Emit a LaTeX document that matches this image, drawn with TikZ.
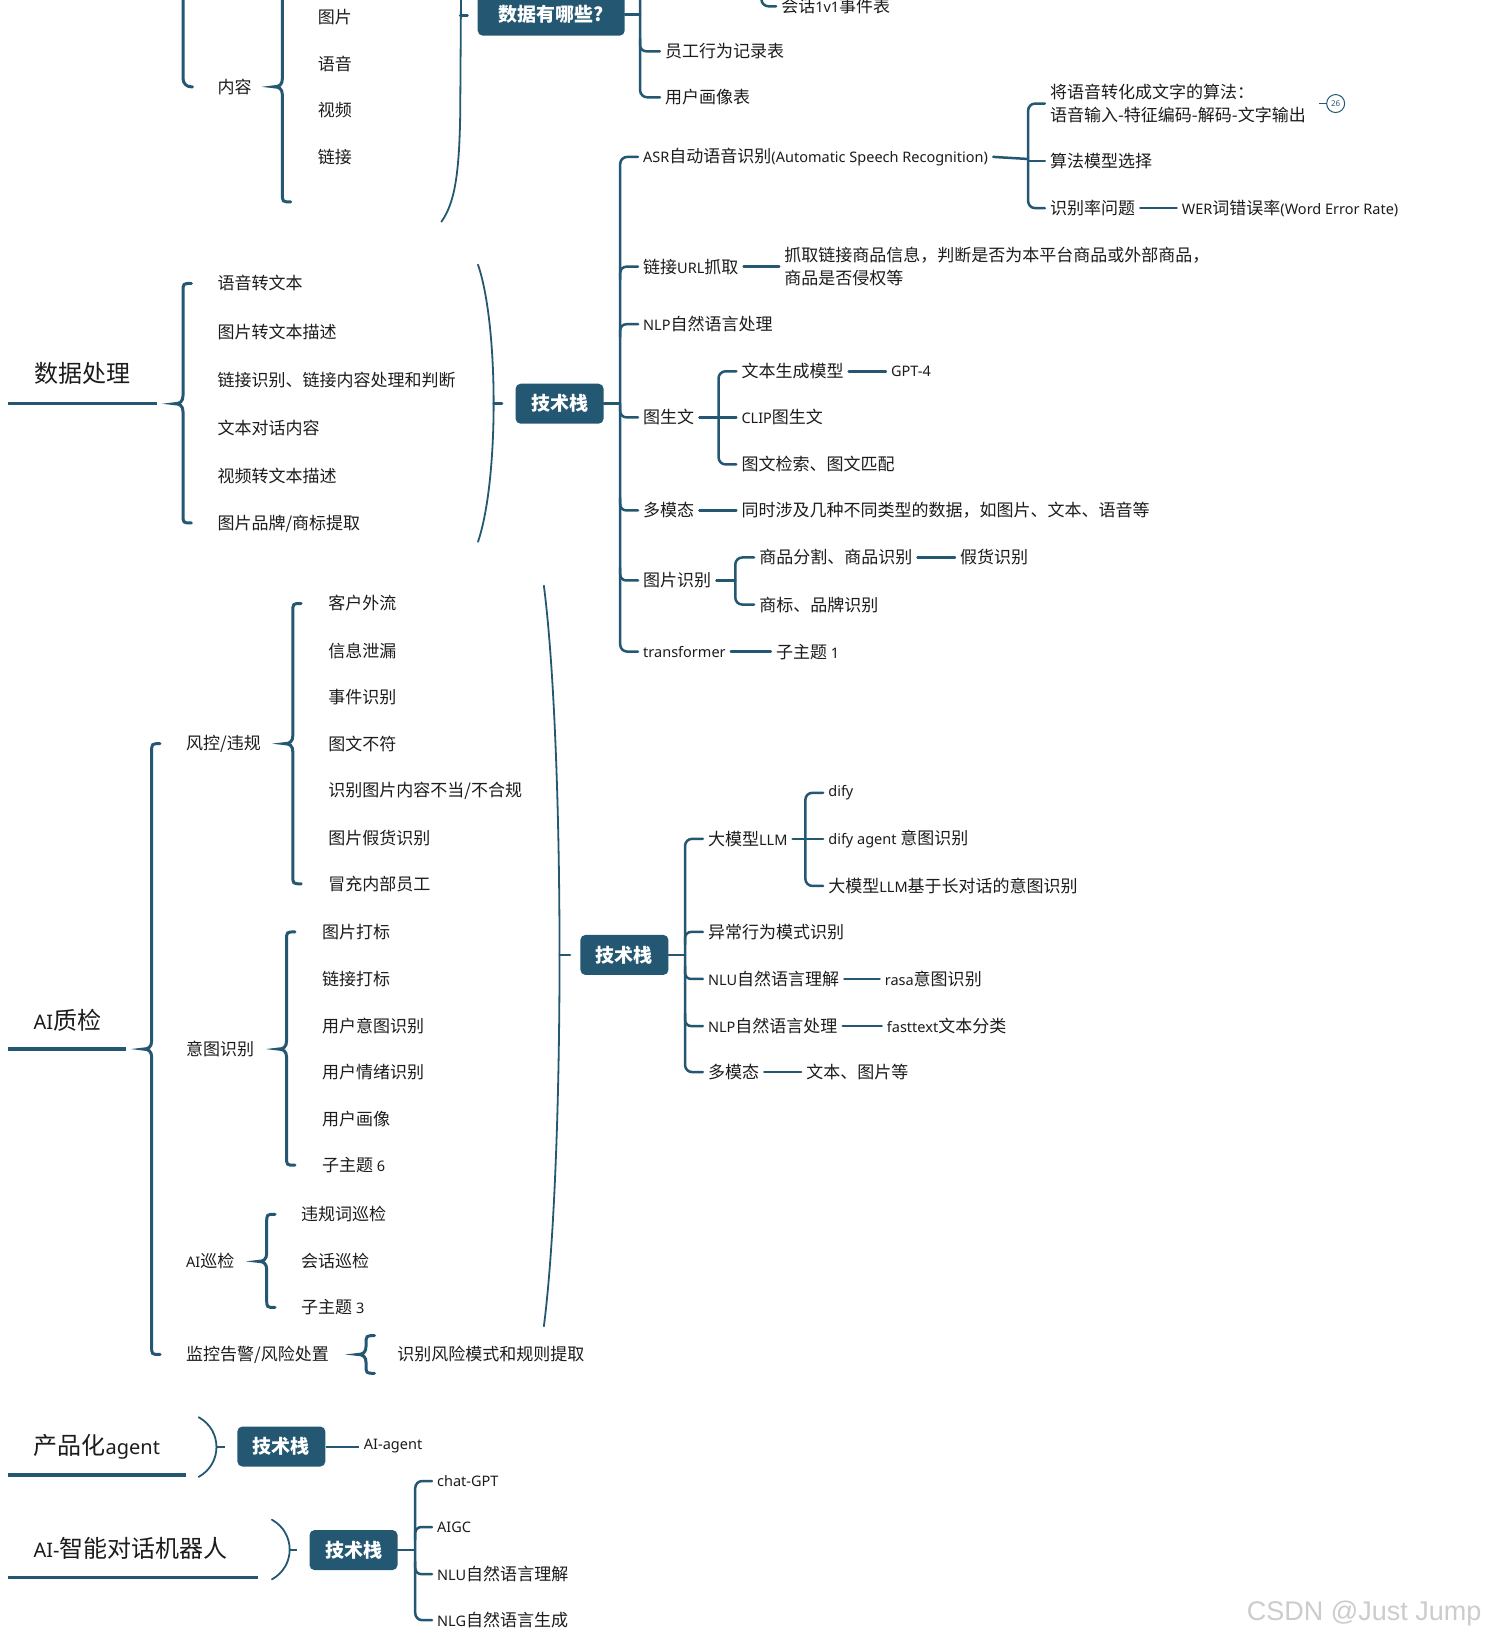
\documentclass[tikz,border=0pt]{standalone}
\usepackage{fontspec}
\setmainfont{Noto Sans CJK SC}
\newfontfamily\hwfont{Noto Sans}
\newfontfamily\wmfont{Liberation Sans}
\usetikzlibrary{calc}
\definecolor{lc}{HTML}{245872}
\definecolor{tc}{HTML}{1C1C1C}
\newcommand\hwt[1]{{\hwfont\fontsize{14.5}{16}\selectfont #1}}
\newcommand\hwbig[1]{{\hwfont\fontsize{20}{24}\selectfont #1}}
\newcommand\mybrace[4]{%
 \draw[brc] ({#1+8},#2) .. controls (#1,#2) .. (#1,{#2+8}) -- (#1,{#3-8})
   .. controls (#1,{#3-2}) and ({#1-3},#3) .. ({#1-8},#3)
   .. controls ({#1-3},#3) and (#1,{#3+2}) .. (#1,{#3+8})
   -- (#1,{#4-8}) .. controls (#1,#4) .. ({#1+8},#4);}
\newcommand\myparen[4]{%
 \draw[prn] (#1,#2) .. controls ({#1+1.33*#4},{#2+0.22*(#3-#2)}) and ({#1+1.33*#4},{#3-0.22*(#3-#2)}) .. (#1,#3);}
\tikzset{
 ln/.style={draw=lc, line width=2.5pt, line cap=round},
 brc/.style={draw=lc, line width=3pt, line cap=round},
 prn/.style={draw=lc, line width=1.8pt, line cap=round},
 tx/.style={anchor=west, inner xsep=5pt, inner ysep=2pt, text=tc, font=\fontsize{17}{23}\selectfont, align=left},
 ttl/.style={anchor=west, inner sep=0pt, text=tc, font=\fontsize{24}{28}\selectfont},
 tbox/.style={fill=lc, rounded corners=5pt, text=white, font=\fontsize{19}{22}\selectfont\bfseries, minimum width=88pt, minimum height=40pt, inner sep=0pt},
}
\newcommand\brup[2]{\draw[ln,rounded corners=6] ($(#2.west -| #1)+(0,12)$) -- (#2.west -| #1) -- (#2.west);}
\newcommand\brdn[2]{\draw[ln,rounded corners=6] ($(#2.west -| #1)+(0,-12)$) -- (#2.west -| #1) -- (#2.west);}
\newcommand\brspan[3]{\draw[ln,rounded corners=7] (#2.west) -- (#2.west -| #1) -- (#3.west -| #1) -- (#3.west);}
\begin{document}
\begin{tikzpicture}[x=1.0458pt,y=-1.0458pt]
\useasboundingbox (0,0) rectangle (1419,1568);
\clip (0,0) rectangle (1419,1568);
\fill[white] (0,0) rectangle (1419,1568);

% ---------- top (cut-off) part ----------
\draw[brc,rounded corners=8] (175,-40) -- (175,83) -- (184,83);
\node[tx] (neirong) at (203,83) {内容};
\draw[brc] (270,-40) -- (270,75) .. controls (270,81) and (267,83) .. (262,83)
  .. controls (267,83) and (270,85) .. (270,91) -- (270,185) .. controls (270,193) .. (278,193);
\node[tx] (tp) at (299,16) {图片};
\node[tx] (yy) at (299,61) {语音};
\node[tx] (sp) at (299,105) {视频};
\node[tx] (lj) at (299,150) {链接};
\draw[prn] (441,-40) -- (440,110) .. controls (439,170) and (434,195) .. (422,212);
\draw[ln] (440,15) -- (447,15);
\node[tbox, minimum width=147pt, minimum height=42pt] (sjyn) at (527,14) {数据有哪些?};
\coordinate (j1) at (612,14);
\draw[ln] (sjyn.east) -- (j1);
\node[tx] (hh) at (742,6) {会话\hwt{1v1}事件表};
\node[tx] (yg) at (631,49) {员工行为记录表};
\node[tx] (hx) at (631,93) {用户画像表};
\draw[ln,rounded corners=7] (612,-40) -- (612,93) -- (hx.west);
\brdn{j1}{yg}
\draw[ln,rounded corners=7] (728,-40) -- (728,6) -- (hh.west);

% ---------- 数据处理 ----------
\node[ttl] (sjcl) at (33,357) {数据处理};
\draw[lc, line width=3.5pt] (8,386) -- (150,386);
\mybrace{175}{271}{386}{500}
\node[tx] (d1) at (203,271) {语音转文本};
\node[tx] (d2) at (203,317) {图片转文本描述};
\node[tx] (d3) at (203,363) {链接识别、链接内容处理和判断};
\node[tx] (d4) at (203,409) {文本对话内容};
\node[tx] (d5) at (203,455) {视频转文本描述};
\node[tx] (d6) at (203,501) {图片品牌/商标提取};
\myparen{457}{253}{518}{15}
\draw[ln] (472,386) -- (480,386);
\node[tbox] (jsz1) at (535,386) {技术栈};
\coordinate (j2) at (593,386);
\draw[ln] (jsz1.east) -- (j2);

\node[tx] (asr) at (610,150) {\hwt{ASR}自动语音识别\hwt{(Automatic Speech Recognition)}};
\node[tx] (url) at (610,255) {链接\hwt{URL}抓取};
\node[tx] (nlp1) at (610,310) {\hwt{NLP}自然语言处理};
\node[tx] (tsw) at (610,399) {图生文};
\node[tx] (dmt1) at (610,488) {多模态};
\node[tx] (tpsb) at (610,555) {图片识别};
\node[tx] (tf) at (610,623) {\hwt{transformer}};
\brspan{j2}{asr}{tf}
\brup{j2}{url}
\brup{j2}{nlp1}
\brdn{j2}{tsw}
\brdn{j2}{dmt1}
\brdn{j2}{tpsb}

\coordinate (j3) at (983,152);
\draw[ln] (asr.east) -- (j3);
\node[tx] (a1) at (999,99) {将语音转化成文字的算法：\\语音输入-特征编码-解码-文字输出};
\node[tx] (a2) at (999,154) {算法模型选择};
\node[tx] (a3) at (999,199) {识别率问题};
\brspan{j3}{a1}{a3}
\draw[ln] (a2.west -| j3) -- (a2.west);
\node[tx] (wer) at (1125,199) {\hwt{WER}词错误率\hwt{(Word Error Rate)}};
\draw[ln] (a3.east) -- (wer.west);
\node[circle, draw=lc, line width=1pt, minimum size=18pt, inner sep=0pt, text=lc, font=\hwfont\fontsize{8}{9}\selectfont] (n26) at (1277,99) {26};
\draw[lc, line width=1.5pt] ($(n26.west)+(-7,0)$) -- (n26.west);

\node[tx] (urlt) at (745,255) {抓取链接商品信息，判断是否为本平台商品或外部商品，\\商品是否侵权等};
\draw[ln] (url.east) -- (urlt.west);

\coordinate (j5) at (687,399);
\node[tx] (t1) at (704,355) {文本生成模型};
\node[tx] (t2) at (704,399) {\hwt{CLIP}图生文};
\node[tx] (t3) at (704,444) {图文检索、图文匹配};
\draw[ln] (tsw.east) -- (t2.west);
\brspan{j5}{t1}{t3}
\node[tx] (gpt4) at (847,355) {\hwt{GPT-4}};
\draw[ln] (t1.east) -- (gpt4.west);

\node[tx] (dmtt) at (704,488) {同时涉及几种不同类型的数据，如图片、文本、语音等};
\draw[ln] (dmt1.east) -- (dmtt.west);

\coordinate (j6) at (703,555);
\node[tx] (p1) at (721,533) {商品分割、商品识别};
\node[tx] (p2) at (721,578) {商标、品牌识别};
\draw[ln] (tpsb.east) -- (j6);
\brspan{j6}{p1}{p2}
\node[tx] (jh) at (913,533) {假货识别};
\draw[ln] (p1.east) -- (jh.west);

\node[tx] (zt1) at (737,623) {子主题 \hwt{1}};
\draw[ln] (tf.east) -- (zt1.west);

% ---------- AI质检 ----------
\node[ttl] (aizj) at (32,975) {\hwbig{AI}质检};
\draw[lc, line width=3.5pt] (8,1003) -- (120,1003);
\mybrace{145}{711}{1003}{1295}
\node[tx] (fk) at (173,711) {风控/违规};
\node[tx] (yt) at (173,1003) {意图识别};
\node[tx] (xj) at (173,1206) {\hwt{AI}巡检};
\node[tx] (jk) at (173,1295) {监控告警/风险处置};

\mybrace{280}{577}{711}{845}
\node[tx] (f1) at (309,577) {客户外流};
\node[tx] (f2) at (309,622) {信息泄漏};
\node[tx] (f3) at (309,666) {事件识别};
\node[tx] (f4) at (309,711) {图文不符};
\node[tx] (f5) at (309,756) {识别图片内容不当/不合规};
\node[tx] (f6) at (309,801) {图片假货识别};
\node[tx] (f7) at (309,845) {冒充内部员工};

\mybrace{274}{891}{1003}{1114}
\node[tx] (y1) at (303,891) {图片打标};
\node[tx] (y2) at (303,936) {链接打标};
\node[tx] (y3) at (303,981) {用户意图识别};
\node[tx] (y4) at (303,1025) {用户情绪识别};
\node[tx] (y5) at (303,1070) {用户画像};
\node[tx] (y6) at (303,1114) {子主题 \hwt{6}};

\mybrace{255}{1161}{1206}{1250}
\node[tx] (x1) at (283,1161) {违规词巡检};
\node[tx] (x2) at (283,1206) {会话巡检};
\node[tx] (x3) at (283,1250) {子主题 \hwt{3}};

\mybrace{350}{1277}{1295}{1313}
\node[tx] (jk1) at (375,1295) {识别风险模式和规则提取};

\myparen{520}{560}{1268}{15}
\draw[ln] (535,913) -- (545,913);
\node[tbox] (jsz2) at (597,913) {技术栈};
\coordinate (j7) at (655,913);
\draw[ln] (jsz2.east) -- (j7);
\node[tx] (m1) at (672,802) {大模型\hwt{LLM}};
\node[tx] (m2) at (672,891) {异常行为模式识别};
\node[tx] (m3) at (672,936) {\hwt{NLU}自然语言理解};
\node[tx] (m4) at (672,981) {\hwt{NLP}自然语言处理};
\node[tx] (m5) at (672,1025) {多模态};
\brspan{j7}{m1}{m5}
\brup{j7}{m2}
\brdn{j7}{m3}
\brdn{j7}{m4}

\coordinate (j8) at (770,802);
\node[tx] (l1) at (787,758) {\hwt{dify}};
\node[tx] (l2) at (787,802) {\hwt{dify agent} 意图识别};
\node[tx] (l3) at (787,847) {大模型\hwt{LLM}基于长对话的意图识别};
\draw[ln] (m1.east) -- (l2.west);
\brspan{j8}{l1}{l3}
\node[tx] (rasa) at (841,936) {\hwt{rasa}意图识别};
\draw[ln] (m3.east) -- (rasa.west);
\node[tx] (ft) at (843,981) {\hwt{fasttext}文本分类};
\draw[ln] (m4.east) -- (ft.west);
\node[tx] (wb) at (766,1025) {文本、图片等};
\draw[ln] (m5.east) -- (wb.west);

% ---------- 产品化agent ----------
\node[ttl] (cph) at (32,1383) {产品化\hwbig{agent}};
\draw[lc, line width=3.5pt] (8,1410) -- (178,1410);
\myparen{190}{1355}{1412}{17}
\draw[lc, line width=2pt] (207,1383) -- (215,1383);
\node[tbox] (jsz3) at (269,1383) {技术栈};
\node[tx] (aiag) at (343,1383) {\hwt{AI-agent}};
\draw[lc, line width=2pt] (jsz3.east) -- (aiag.west);

% ---------- AI-智能对话机器人 ----------
\node[ttl] (aizn) at (32,1480) {\hwbig{AI-}智能对话机器人};
\draw[lc, line width=3.5pt] (8,1508) -- (247,1508);
\myparen{260}{1453}{1510}{17}
\draw[lc, line width=2pt] (277,1482) -- (284,1482);
\node[tbox] (jsz4) at (338,1482) {技术栈};
\coordinate (j9) at (397,1482);
\draw[ln] (jsz4.east) -- (j9);
\node[tx] (c1) at (413,1416) {\hwt{chat-GPT}};
\node[tx] (c2) at (413,1460) {\hwt{AIGC}};
\node[tx] (c3) at (413,1505) {\hwt{NLU}自然语言理解};
\node[tx] (c4) at (413,1549) {\hwt{NLG}自然语言生成};
\brspan{j9}{c1}{c4}
\brup{j9}{c2}
\brdn{j9}{c3}

\node[anchor=west, inner sep=0pt, text=gray!40, font=\wmfont\fontsize{27}{30}\selectfont] (wm) at (1192,1543) {CSDN @Just Jump};
\end{tikzpicture}
\end{document}
